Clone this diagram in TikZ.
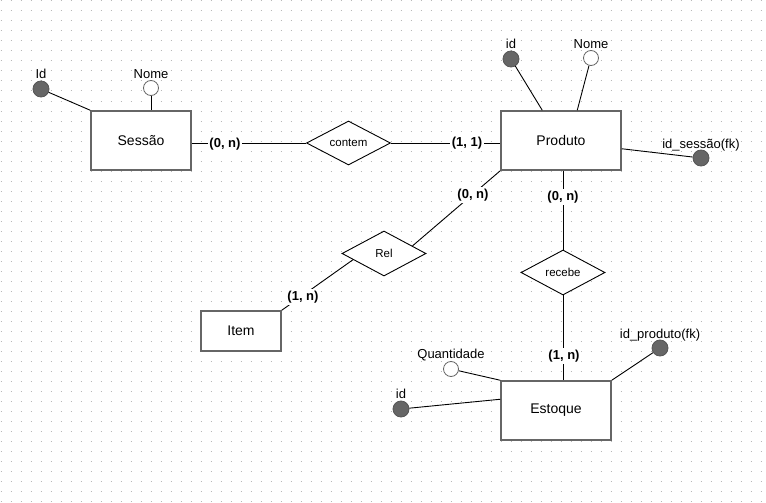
\documentclass[tikz,border=0pt]{standalone}
\usepackage{fontspec}
\setmainfont{Liberation Sans}
\usetikzlibrary{shapes.geometric,calc}

\definecolor{gridc}{HTML}{B8B8B8}
\definecolor{boxc}{HTML}{666666}
\definecolor{keyfill}{HTML}{666666}
\definecolor{keydraw}{HTML}{555555}

\tikzset{
  entity/.style={draw=boxc, line width=1.5pt, fill=white, inner sep=0pt,
    font=\fontsize{14}{16}\selectfont},
  relation/.style={diamond, draw=black, line width=0.9pt, fill=white, inner sep=0pt,
    aspect=2, minimum width=84pt, minimum height=44pt,
    font=\fontsize{11.5}{13}\selectfont},
  keyattr/.style={circle, draw=keydraw, fill=keyfill, line width=0.8pt,
    minimum size=16pt, inner sep=0pt},
  plainattr/.style={circle, draw=boxc, fill=white, line width=0.8pt,
    minimum size=15pt, inner sep=0pt},
  attrtext/.style={anchor=base, inner sep=0pt, font=\fontsize{13}{15}\selectfont},
  card/.style={fill=white, inner sep=1.5pt, font=\bfseries\fontsize{13}{15}\selectfont},
  link/.style={draw=black, line width=0.9pt},
}

\begin{document}
\begin{tikzpicture}[x=1pt, y=-1pt]
  \useasboundingbox (0,0) rectangle (766,503);
  \fill[white] (0,0) rectangle (766,503);

  % dotted background grid
  \foreach \j in {0,...,50}
    \draw[gridc, line width=1pt, dash pattern=on 1pt off 9pt]
      (0.5,{1+10*\j}) -- (766,{1+10*\j});

  % entities
  \node[entity, minimum width=100pt, minimum height=59pt] (sessao)  at (141,140.5) {Sessão};
  \node[entity, minimum width=120pt, minimum height=59pt] (produto) at (561,140.5) {Produto};
  \node[entity, minimum width=80pt,  minimum height=40pt] (item)    at (241,331)   {Item};
  \node[entity, minimum width=110pt, minimum height=59pt] (estoque) at (556,410.5) {Estoque};

  % relationships
  \node[relation] (contem) at (348.5,143) {contem};
  \node[relation, minimum height=45pt] (rel) at (384,253.5) {Rel};
  \node[relation, minimum height=45pt] (recebe) at (563,272.5) {recebe};

  % attributes
  \node[keyattr]   (idS)   at (41,89)   {};
  \node[plainattr] (nomeS) at (151,88)  {};
  \node[keyattr]   (idP)   at (511,59)  {};
  \node[plainattr] (nomeP) at (591,58)  {};
  \node[keyattr]   (fkP)   at (701,158) {};
  \node[plainattr] (qtd)   at (451,369) {};
  \node[keyattr]   (idE)   at (401,409) {};
  \node[keyattr]   (fkE)   at (660,348) {};

  % attribute names
  \node[attrtext] (idSt)   at ($(idS.north)+(0,-2)$)   {Id};
  \node[attrtext] (nomeSt) at ($(nomeS.north)+(0,-2)$) {Nome};
  \node[attrtext] (idPt)   at ($(idP.north)+(0,-2)$)   {id};
  \node[attrtext] (nomePt) at ($(nomeP.north)+(0,-2)$) {Nome};
  \node[attrtext] (fkPt)   at ($(fkP.north)+(0,-1)$)   {id\_sessão(fk)};
  \node[attrtext] (qtdt)   at ($(qtd.north)+(0,-2.5)$) {Quantidade};
  \node[attrtext] (idEt)   at ($(idE.north)+(0,-2)$)   {id};
  \node[attrtext] (fkEt)   at ($(fkE.north)+(0,-1)$)   {id\_produto(fk)};

  % attribute links
  \draw[link] (idS) -- (sessao.north west);
  \draw[link] (nomeS) -- (nomeS |- sessao.north);
  \draw[link] (idP) -- ($(produto.north west)+(42,0)$);
  \draw[link] (nomeP) -- ($(produto.north west)+(77,0)$);
  \draw[link] (fkP) -- ($(produto.north east)+(0,38.5)$);
  \draw[link] (qtd) -- (estoque.north west);
  \draw[link] (idE) -- ($(estoque.north west)+(0,19)$);
  \draw[link] (fkE) -- (estoque.north east);

  % relationship links
  \draw[link] (sessao.east |- contem.west) -- (contem.west);
  \draw[link] (contem.east) -- (contem.east -| produto.west);
  \draw[link] (produto.south west) -- ($(rel.north)!0.67!(rel.east)$);
  \draw[link] ($(rel.west)!0.27!(rel.south)$) -- (item.north east);
  \draw[link] (produto.south -| recebe.north) -- (recebe.north);
  \draw[link] (recebe.south) -- (recebe.south |- estoque.north);

  % cardinalities
  \node[card] (c1) at (225,144) {(0, n)};
  \node[card] (c2) at (467,143) {(1, 1)};
  \node[card] (c3) at (473,195) {(0, n)};
  \node[card] (c4) at (303,297) {(1, n)};
  \node[card] (c5) at (563,197) {(0, n)};
  \node[card] (c6) at (564,356) {(1, n)};
\end{tikzpicture}
\end{document}
